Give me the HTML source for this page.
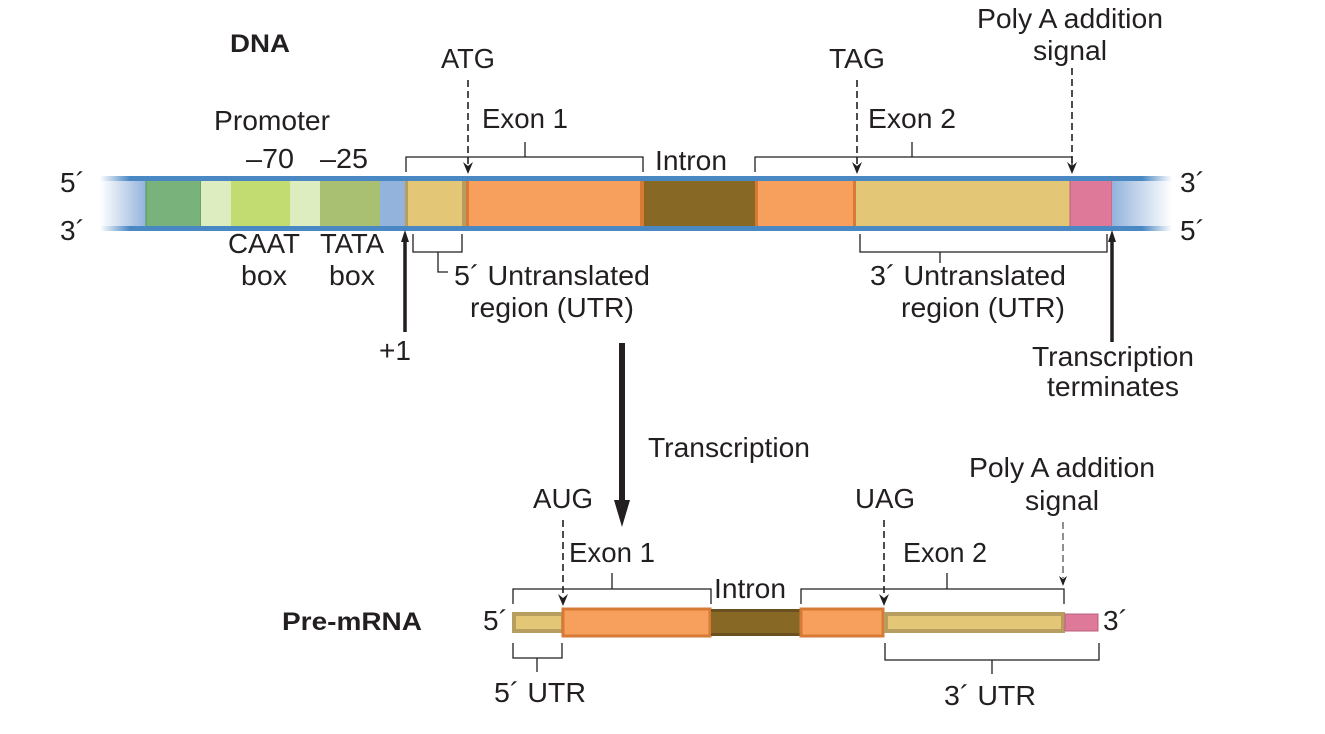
<!DOCTYPE html>
<html><head><meta charset="utf-8"><style>
html,body{margin:0;padding:0;background:#fff;}
svg{display:block;}
text{font-family:"Liberation Sans",Arial,sans-serif;fill:#231f20;font-size:28px;}
.b{font-weight:bold;font-size:25px;}
</style></head><body>
<svg width="1325" height="734" viewBox="0 0 1325 734" xmlns="http://www.w3.org/2000/svg">
<defs>
<linearGradient id="gl" x1="0" x2="1"><stop offset="0" stop-color="#fff"/><stop offset="1" stop-color="#93b3dc"/></linearGradient>
<linearGradient id="gr" x1="0" x2="1"><stop offset="0" stop-color="#93b3dc"/><stop offset="1" stop-color="#fff"/></linearGradient>
<linearGradient id="ll" x1="0" x2="1"><stop offset="0" stop-color="#fff"/><stop offset="0.5" stop-color="#4a88c4"/></linearGradient>
<linearGradient id="lr" x1="0" x2="1"><stop offset="0.5" stop-color="#4a88c4"/><stop offset="1" stop-color="#fff"/></linearGradient>
</defs>

<!-- DNA bar -->
<rect x="100" y="180" width="46" height="47" fill="url(#gl)"/>
<rect x="146" y="180" width="55" height="47" fill="#79b27a" stroke="#4e9a52" stroke-width="1"/>
<rect x="201" y="180" width="30" height="47" fill="#deedc0"/>
<rect x="231" y="180" width="59" height="47" fill="#c2dc72"/>
<rect x="290" y="180" width="30" height="47" fill="#deedc0"/>
<rect x="320" y="180" width="60" height="47" fill="#a9c073"/>
<rect x="380" y="180" width="25" height="47" fill="#93b3dc"/>
<rect x="405" y="180" width="60" height="47" fill="#e3c777"/>
<rect x="405" y="180" width="3" height="47" fill="#b79d5f"/>
<rect x="462" y="180" width="4" height="47" fill="#b79d5f"/>
<rect x="466" y="180" width="177" height="47" fill="#f7a05e"/>
<rect x="466" y="180" width="3" height="47" fill="#d77a36"/>
<rect x="640" y="180" width="4" height="47" fill="#d77a36"/>
<rect x="644" y="180" width="111" height="47" fill="#886825"/>
<rect x="755" y="180" width="100" height="47" fill="#f7a05e"/>
<rect x="755" y="180" width="3" height="47" fill="#d77a36"/>
<rect x="853" y="180" width="3" height="47" fill="#d77a36"/>
<rect x="856" y="180" width="214" height="47" fill="#e3c777"/>
<rect x="1070" y="180" width="42" height="47" fill="#df7999" stroke="#b8607a" stroke-width="1"/>
<rect x="1112" y="180" width="60" height="47" fill="url(#gr)"/>
<rect x="100" y="176" width="1072" height="5" fill="#4a88c4"/>
<rect x="100" y="226" width="1072" height="5" fill="#4a88c4"/>
<rect x="100" y="176" width="60" height="5" fill="url(#ll)"/>
<rect x="100" y="226" width="60" height="5" fill="url(#ll)"/>
<rect x="1112" y="176" width="60" height="5" fill="url(#lr)"/>
<rect x="1112" y="226" width="60" height="5" fill="url(#lr)"/>

<g stroke="#231f20" stroke-width="1.3" fill="none">
<path d="M406,172 V157 H643 V172 M525,157 V142"/>
<path d="M755,172 V157 H1072 V170 M912,157 V142"/>
<path d="M413,234 V252 H462 V234 M438,252 V272 H448"/>
<path d="M860,234 V252 H1107 V234 M940,252 V263"/>
<path d="M513,604 V589 H711 V604 M612,589 V573"/>
<path d="M801,604 V589 H1064 V604 M947,589 V573"/>
<path d="M513,643 V658 H562 V643 M537,658 V672"/>
<path d="M885,643 V660 H1099 V643 M992,660 V674"/>
</g>
<!-- dashed lines -->
<g stroke="#231f20" stroke-width="1.6" stroke-dasharray="7,4" fill="none">
<path d="M468,80 V165"/>
<path d="M857,80 V165"/>
<path d="M1072,68 V165"/>
<path d="M563,520 V596"/>
<path d="M884,520 V596"/>
<path d="M1063,522 V578" stroke-width="1"/>
</g>
<g fill="#231f20">
<path d="M463,162 L468,174 L473,162 L468,166 Z"/>
<path d="M852,162 L857,174 L862,162 L857,166 Z"/>
<path d="M1067,162 L1072,174 L1077,162 L1072,166 Z"/>
<path d="M558,594 L563,606 L568,594 L563,598 Z"/>
<path d="M879,594 L884,606 L889,594 L884,598 Z"/>
<path d="M1059,576 L1063,586 L1067,576 L1063,579 Z"/>
</g>
<!-- solid arrows -->
<g stroke="#231f20" stroke-width="3.5" fill="none">
<path d="M405,332 V240"/>
<path d="M1112,342 V240"/>
<path d="M622,343 V505" stroke-width="6"/>
</g>
<path d="M401,242 L405,230 L409,242 Z" fill="#231f20"/>
<path d="M1108,242 L1112,230 L1116,242 Z" fill="#231f20"/>
<path d="M614,500 L622,527 L630,500 Z" fill="#231f20"/>

<!-- Pre-mRNA bar -->
<rect x="514" y="614" width="49" height="17" fill="#e3c777" stroke="#b79d5f" stroke-width="4"/>
<rect x="563" y="609" width="147" height="27" fill="#f7a05e" stroke="#d77a36" stroke-width="3"/>
<rect x="711" y="609" width="89" height="27" fill="#886825"/>
<rect x="711" y="609" width="89" height="3" fill="#6b5020"/>
<rect x="711" y="633" width="89" height="3" fill="#6b5020"/>
<rect x="801" y="609" width="82" height="27" fill="#f7a05e" stroke="#d77a36" stroke-width="3"/>
<rect x="886" y="614" width="177" height="17" fill="#e3c777" stroke="#b79d5f" stroke-width="4"/>
<rect x="1065" y="614" width="33" height="17" fill="#df7999" stroke="#b8607a" stroke-width="1"/>

<!-- labels -->
<text class="b" x="230" y="52" textLength="60" lengthAdjust="spacingAndGlyphs">DNA</text>
<text x="468" y="68" text-anchor="middle" textLength="54" lengthAdjust="spacingAndGlyphs">ATG</text>
<text x="857" y="68" text-anchor="middle" textLength="56" lengthAdjust="spacingAndGlyphs">TAG</text>
<text x="1070" y="28" text-anchor="middle" textLength="186" lengthAdjust="spacingAndGlyphs">Poly A addition</text>
<text x="1070" y="60" text-anchor="middle" textLength="74" lengthAdjust="spacingAndGlyphs">signal</text>
<text x="272" y="130" text-anchor="middle" textLength="116" lengthAdjust="spacingAndGlyphs">Promoter</text>
<text x="525" y="128" text-anchor="middle" textLength="86" lengthAdjust="spacingAndGlyphs">Exon 1</text>
<text x="912" y="128" text-anchor="middle" textLength="88" lengthAdjust="spacingAndGlyphs">Exon 2</text>
<text x="270" y="168" text-anchor="middle" textLength="48" lengthAdjust="spacingAndGlyphs">–70</text>
<text x="344" y="168" text-anchor="middle" textLength="48" lengthAdjust="spacingAndGlyphs">–25</text>
<text x="691" y="170" text-anchor="middle" textLength="72" lengthAdjust="spacingAndGlyphs">Intron</text>
<text x="60" y="192">5´</text>
<text x="60" y="240">3´</text>
<text x="1180" y="192">3´</text>
<text x="1180" y="240">5´</text>
<text x="264" y="253" text-anchor="middle" textLength="72" lengthAdjust="spacingAndGlyphs">CAAT</text>
<text x="264" y="285" text-anchor="middle" textLength="46" lengthAdjust="spacingAndGlyphs">box</text>
<text x="352" y="253" text-anchor="middle" textLength="64" lengthAdjust="spacingAndGlyphs">TATA</text>
<text x="352" y="285" text-anchor="middle" textLength="46" lengthAdjust="spacingAndGlyphs">box</text>
<text x="454" y="285" textLength="196" lengthAdjust="spacingAndGlyphs">5´ Untranslated</text>
<text x="552" y="317" text-anchor="middle" textLength="164" lengthAdjust="spacingAndGlyphs">region (UTR)</text>
<text x="968" y="285" text-anchor="middle" textLength="196" lengthAdjust="spacingAndGlyphs">3´ Untranslated</text>
<text x="983" y="317" text-anchor="middle" textLength="164" lengthAdjust="spacingAndGlyphs">region (UTR)</text>
<text x="395" y="360" text-anchor="middle">+1</text>
<text x="1113" y="366" text-anchor="middle" textLength="162" lengthAdjust="spacingAndGlyphs">Transcription</text>
<text x="1113" y="396" text-anchor="middle" textLength="132" lengthAdjust="spacingAndGlyphs">terminates</text>
<text x="648" y="457" textLength="162" lengthAdjust="spacingAndGlyphs">Transcription</text>
<text x="563" y="508" text-anchor="middle" textLength="60" lengthAdjust="spacingAndGlyphs">AUG</text>
<text x="612" y="562" text-anchor="middle" textLength="86" lengthAdjust="spacingAndGlyphs">Exon 1</text>
<text x="750" y="598" text-anchor="middle" textLength="72" lengthAdjust="spacingAndGlyphs">Intron</text>
<text x="885" y="508" text-anchor="middle" textLength="60" lengthAdjust="spacingAndGlyphs">UAG</text>
<text x="945" y="562" text-anchor="middle" textLength="84" lengthAdjust="spacingAndGlyphs">Exon 2</text>
<text x="1062" y="477" text-anchor="middle" textLength="186" lengthAdjust="spacingAndGlyphs">Poly A addition</text>
<text x="1062" y="510" text-anchor="middle" textLength="74" lengthAdjust="spacingAndGlyphs">signal</text>
<text class="b" x="282" y="630" textLength="140" lengthAdjust="spacingAndGlyphs">Pre-mRNA</text>
<text x="483" y="630">5´</text>
<text x="1103" y="630">3´</text>
<text x="540" y="702" text-anchor="middle" textLength="92" lengthAdjust="spacingAndGlyphs">5´ UTR</text>
<text x="990" y="705" text-anchor="middle" textLength="92" lengthAdjust="spacingAndGlyphs">3´ UTR</text>
</svg>
</body></html>
